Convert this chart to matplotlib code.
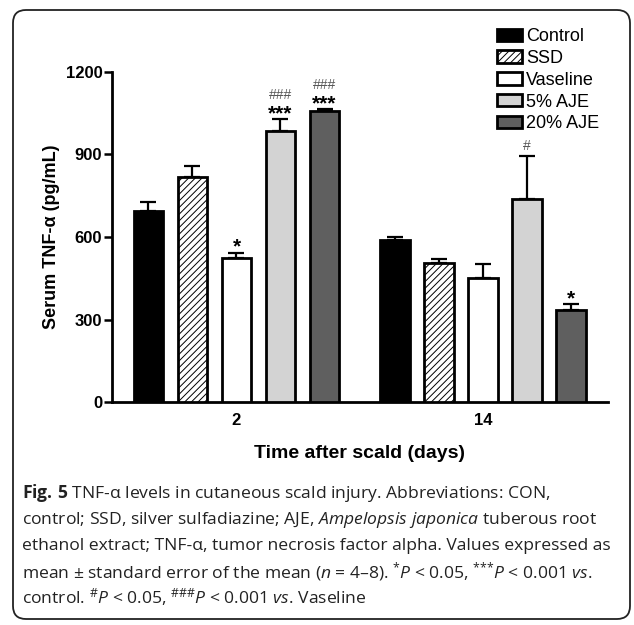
import matplotlib
matplotlib.use("Agg")
import matplotlib.pyplot as plt
from matplotlib.patches import FancyBboxPatch
import numpy as np

# ---- data ----
days = ["2", "14"]
groups = ["Control", "SSD", "Vaseline", "5% AJE", "20% AJE"]
means_day2 = [696, 817, 522, 987, 1059]
sem_day2 = [31, 40, 21, 41, 5]
means_day14 = [589, 507, 450, 737, 333]
sem_day14 = [11, 13, 53, 159, 23]
stars_day2 = ["", "", "*", "***", "***"]
hashes_day2 = ["", "", "", "###", "###"]
stars_day14 = ["", "", "", "", "*"]
hashes_day14 = ["", "", "", "#", ""]
yticks = [0, 300, 600, 900, 1200]

caption_lines = [
    r"$\mathbf{Fig.\,5}$ TNF-α levels in cutaneous scald injury. Abbreviations: CON,",
    r"control; SSD, silver sulfadiazine; AJE, $\mathit{Ampelopsis\ japonica}$ tuberous root",
    r"ethanol extract; TNF-α, tumor necrosis factor alpha. Values expressed as",
    r"mean ± standard error of the mean ($\mathit{n}$ = 4–8). $^{{*}}\mathit{P}$ < 0.05, $^{{*}{*}{*}}\mathit{P}$ < 0.001 $\mathit{vs}$.",
    r"control. $^{\#}\mathit{P}$ < 0.05, $^{\#\#\#}\mathit{P}$ < 0.001 $\mathit{vs}$. Vaseline",
]

faces = ["black", "white", "white", "#d3d3d3", "#5f5f5f"]
hatches = [None, "/////", None, None, None]

plt.rcParams["font.family"] = ["Liberation Sans", "DejaVu Sans"]
plt.rcParams["hatch.linewidth"] = 0.7
plt.rcParams["mathtext.fontset"] = "custom"
plt.rcParams["mathtext.rm"] = "Open Sans"
plt.rcParams["mathtext.it"] = "Open Sans:italic"
plt.rcParams["mathtext.bf"] = "Open Sans:bold"

W, H = 634, 625
fig = plt.figure(figsize=(W / 100, H / 100), dpi=100)

# frame
frame = FancyBboxPatch((0.13, 0.06), 6.17, 6.09,
                       boxstyle="round,pad=0,rounding_size=0.13",
                       transform=fig.dpi_scale_trans, facecolor="none",
                       edgecolor="#222222", linewidth=1.3, zorder=0)
fig.patches.append(frame)

ax = fig.add_axes([112 / W, 1 - 402 / H, (608 - 112) / W, 330 / H])
ax.set_facecolor("none")
ax.set_zorder(2)

spacing = 0.1785
width = 0.118
all_means = [means_day2, means_day14]
all_sems = [sem_day2, sem_day14]
all_stars = [stars_day2, stars_day14]
all_hashes = [hashes_day2, hashes_day14]

for gi, g in enumerate(groups):
    xs = [d + (gi - 2) * spacing for d in range(len(days))]
    vals = [all_means[d][gi] for d in range(len(days))]
    errs = [all_sems[d][gi] for d in range(len(days))]
    ax.bar(xs, vals, width=width, color=faces[gi], edgecolor="black",
           linewidth=2, hatch=hatches[gi], label=g, zorder=3)
    ax.errorbar(xs, vals, yerr=[np.zeros(len(errs)), errs], fmt="none",
                ecolor="black", elinewidth=1.6, capsize=6, capthick=1.6,
                zorder=2)
    for d in range(len(days)):
        cap = vals[d] + errs[d]
        s = all_stars[d][gi]
        h = all_hashes[d][gi]
        if s:
            ax.annotate(s, xy=(xs[d], cap), xytext=(0, 0), textcoords="offset pixels",
                        ha="center", va="baseline", fontsize=15, fontweight="bold")
        if h:
            off = 20 if s else 6
            ax.annotate(h, xy=(xs[d], cap), xytext=(0, off), textcoords="offset pixels",
                        ha="center", va="baseline", fontsize=10, color="#555555")

ax.set_xlim(-0.505, 1.507)
ax.set_ylim(0, 1200)
ax.set_xticks(range(len(days)))
ax.set_xticklabels(days)
ax.set_yticks(yticks)
for s in ["top", "right"]:
    ax.spines[s].set_visible(False)
for s in ["left", "bottom"]:
    ax.spines[s].set_linewidth(2)
ax.tick_params(axis="y", length=6, width=1.8, pad=1, labelsize=12)
ax.tick_params(axis="x", length=0, pad=8, labelsize=12)
for lab in ax.get_xticklabels() + ax.get_yticklabels():
    lab.set_fontweight("bold")
ax.set_ylabel("Serum TNF-α (pg/mL)", fontsize=13, fontweight="bold", labelpad=4)
ax.set_xlabel("Time after scald (days)", fontsize=14, fontweight="bold", labelpad=12)

handles, labels = ax.get_legend_handles_labels()
fig.legend(handles, labels, loc="upper left", bbox_to_anchor=(497 / W, 1 - 28 / H),
           frameon=False, fontsize=13, handlelength=1.39, handleheight=0.67,
           handletextpad=0.22, labelspacing=0.27, borderpad=0, borderaxespad=0)

# caption
cap_y = [493, 520, 546, 572, 597]
for line, yy in zip(caption_lines, cap_y):
    fig.text(22 / W, 1 - yy / H, line, fontsize=12.6, family="Open Sans",
             ha="left", va="center", color="#222222")

fig.savefig("out.png", dpi=100)
